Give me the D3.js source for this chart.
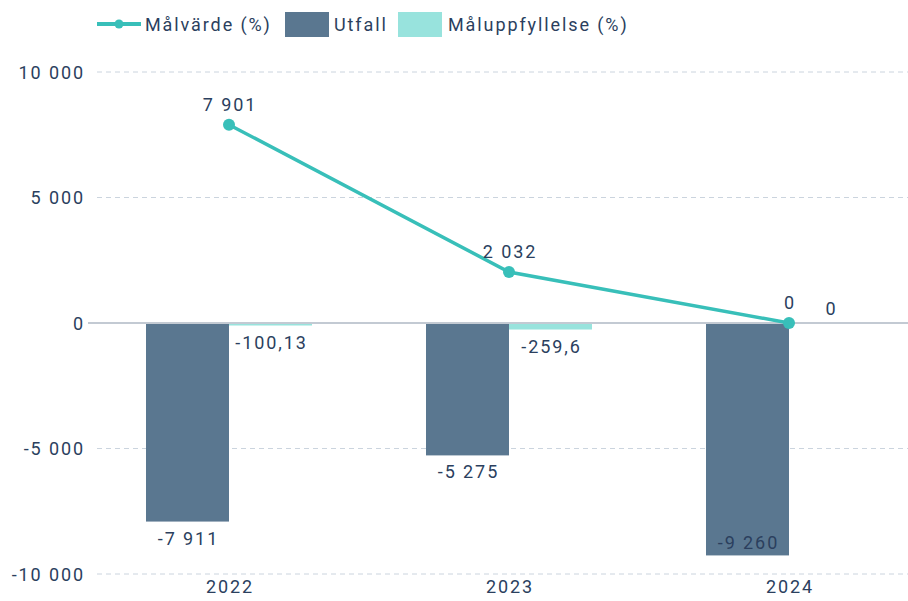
<!DOCTYPE html>
<html><head><meta charset="utf-8">
<script src="https://cdn.jsdelivr.net/npm/d3@7"></script>
<style>body{margin:0;background:#fff;}svg{display:block;font-family:Roboto,sans-serif;}text{letter-spacing:1.9px;}</style>
</head><body>
<svg id="c" width="908" height="601"></svg>
<script>
const categories = ["2022","2023","2024"];
const malvarde = [7901, 2032, 0];
const utfall = [-7911, -5275, -9260];
const maluppfyllelse = [-100.13, -259.6, 0];
const yTicks = [-10000, -5000, 0, 5000, 10000];
const seriesNames = ["Målvärde (%)", "Utfall", "Måluppfyllelse (%)"];

const W = 908, H = 601, FS = 18;
const textColor = "#2b3f5e", barColor = "#5a7790", lightColor = "#98e3dd", lineColor = "#38bfb9";
const svg = d3.select("#c");
const x = d3.scaleBand().domain(categories).range([89, 929]);
const y = d3.scaleLinear().domain([-10000, 10000]).range([574, 72]);
const bw = 83;
const fmt = v => d3.format(",")(v).replace(/,/g, " ").replace(/\./g, ",").replace("−","-");

// gridlines
svg.append("g").selectAll("line").data(yTicks.filter(d => d !== 0)).join("line")
  .attr("x1", 97).attr("x2", W).attr("y1", d => y(d)).attr("y2", d => y(d))
  .attr("stroke", "#cbd4de").attr("stroke-width", 1).attr("stroke-dasharray", "5,4");

// y axis labels
const yAxis = d3.axisLeft(y).tickValues(yTicks).tickSize(0).tickPadding(0).tickFormat(fmt);
const ga = svg.append("g").attr("transform", "translate(85,0)").call(yAxis);
ga.select(".domain").remove();
ga.selectAll("text").attr("font-size", FS).attr("fill", textColor).attr("font-family", "Roboto, sans-serif").attr("dy", "0.35em");

// x axis labels
const xAxis = d3.axisBottom(x).tickSize(0).tickPadding(0);
const gx = svg.append("g").attr("transform", "translate(1,580)").call(xAxis);
gx.select(".domain").remove();
gx.selectAll("text").attr("font-size", FS).attr("fill", textColor).attr("font-family", "Roboto, sans-serif").attr("dy", "0.71em");

// bars
const cx = d => x(d) + x.bandwidth() / 2;
svg.append("g").selectAll("rect").data(categories).join("rect")
  .attr("x", d => cx(d) - bw).attr("width", bw)
  .attr("y", (d, i) => y(Math.max(0, utfall[i])))
  .attr("height", (d, i) => Math.abs(y(utfall[i]) - y(0)))
  .attr("fill", barColor);
svg.append("g").selectAll("rect").data(categories).join("rect")
  .attr("x", d => cx(d)).attr("width", bw)
  .attr("y", (d, i) => y(Math.max(0, maluppfyllelse[i])))
  .attr("height", (d, i) => Math.abs(y(maluppfyllelse[i]) - y(0)))
  .attr("fill", lightColor);

// zero line
svg.append("line").attr("x1", 88).attr("x2", W).attr("y1", y(0)).attr("y2", y(0))
  .attr("stroke", "#c3cad3").attr("stroke-width", 2);

// line
const line = d3.line().x((d, i) => cx(categories[i])).y(d => y(d));
svg.append("path").datum(malvarde).attr("d", line).attr("fill", "none")
  .attr("stroke", lineColor).attr("stroke-width", 3.5);
svg.append("g").selectAll("circle").data(malvarde).join("circle")
  .attr("cx", (d, i) => cx(categories[i])).attr("cy", d => y(d)).attr("r", 6).attr("fill", lineColor);

// labels
const lbl = svg.append("g").attr("font-size", FS).attr("fill", textColor).attr("text-anchor", "middle");
malvarde.forEach((v, i) => {
  lbl.append("text").attr("x", cx(categories[i]) + 1).attr("y", y(v) - 14).text(fmt(v));
});
utfall.forEach((v, i) => {
  const bottom = y(v);
  const inside = bottom + 25 > 560;
  lbl.append("text").attr("x", cx(categories[i]) - bw / 2 + 1)
    .attr("y", inside ? bottom - 6 : bottom + 23).text(fmt(v));
});
maluppfyllelse.forEach((v, i) => {
  const yy = v < 0 ? y(v) + 23 : y(v) - 8;
  lbl.append("text").attr("x", cx(categories[i]) + bw / 2 + 1).attr("y", yy).text(fmt(v));
});

// legend
const lg = svg.append("g").attr("font-size", FS).attr("fill", textColor);
lg.append("line").attr("x1", 97).attr("x2", 141).attr("y1", 24).attr("y2", 24).attr("stroke", lineColor).attr("stroke-width", 4);
lg.append("circle").attr("cx", 119).attr("cy", 24).attr("r", 4.5).attr("fill", lineColor);
lg.append("text").attr("x", 145).attr("y", 31).text(seriesNames[0]);
lg.append("rect").attr("x", 285).attr("y", 12).attr("width", 44).attr("height", 25).attr("fill", barColor);
lg.append("text").attr("x", 334).attr("y", 31).text(seriesNames[1]);
lg.append("rect").attr("x", 398).attr("y", 12).attr("width", 44).attr("height", 25).attr("fill", lightColor);
lg.append("text").attr("x", 448).attr("y", 31).text(seriesNames[2]);
</script>
</body></html>
